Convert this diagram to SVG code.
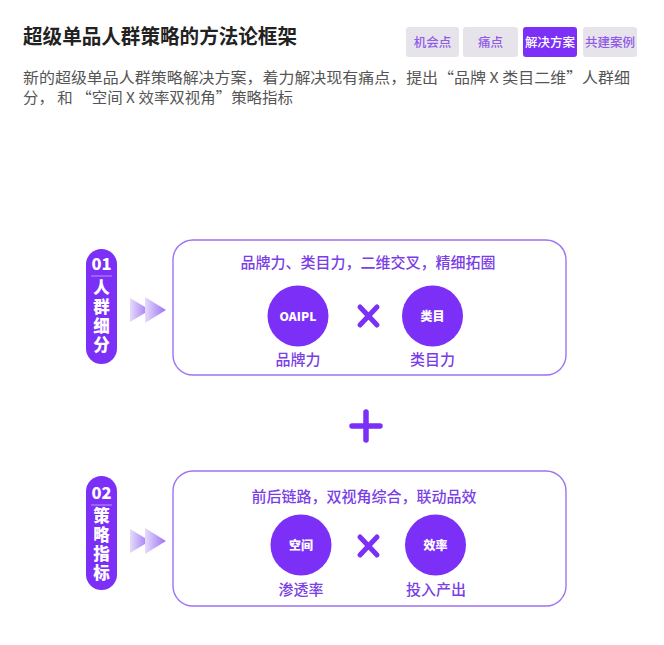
<svg xmlns="http://www.w3.org/2000/svg" width="664" height="645" viewBox="0 0 664 645">
<style>
text{font-family:"Noto Sans CJK SC","Noto Sans",sans-serif}
.title{font-size:20px;font-weight:700;fill:#222}
.sub{font-size:15px;fill:#555}
.tab{fill:#e6e4ea}
.tabt{font-size:12.5px;fill:#8f5ae8;text-anchor:middle;font-weight:500}
.box{fill:#fff;stroke:#9f72f2;stroke-width:1.4}
.pill{fill:#7b2ff7}
.pt{font-size:16.5px;font-weight:800;fill:#fff;text-anchor:middle}
.vt{font-size:16.5px;font-weight:800;fill:#fff;writing-mode:vertical-rl;letter-spacing:2.6px}
.hd{font-size:15px;fill:#7a3ee6;text-anchor:middle;font-weight:500}
.lbl{font-size:15px;fill:#7a3ee6;text-anchor:middle;font-weight:500}
.circ{fill:#7b2ff7}
.ct{font-size:12px;font-weight:800;fill:#fff;text-anchor:middle}
.x{stroke:#7b2ff7;stroke-width:5;stroke-linecap:round}
</style>
<defs>
<linearGradient id="chev" x1="0" y1="0" x2="1" y2="0">
<stop offset="0" stop-color="#e6dcfb"/>
<stop offset="1" stop-color="#9b70f3"/>
</linearGradient>
</defs>
<rect width="664" height="645" fill="#fff"/>
<g id="header">
<text class="title" x="23" y="44" textLength="274" lengthAdjust="spacingAndGlyphs">超级单品人群策略的方法论框架</text>
<text class="sub" x="23" y="83" textLength="607" lengthAdjust="spacingAndGlyphs">新的超级单品人群策略解决方案，着力解决现有痛点，提出“品牌 X 类目二维”人群细</text>
<text class="sub" x="23" y="103" textLength="270" lengthAdjust="spacingAndGlyphs">分， 和 “空间 X 效率双视角”策略指标</text>
</g>
<g id="tabs">
<rect class="tab" x="406" y="27" width="53" height="30" rx="3"/>
<text class="tabt" x="432.5" y="46.5">机会点</text>
<rect class="tab" x="463" y="27" width="55" height="30" rx="3"/>
<text class="tabt" x="490.5" y="46.5">痛点</text>
<rect x="523" y="27" width="54" height="30" rx="3" fill="#7b2ff7"/>
<text class="tabt" x="550" y="46.5" style="fill:#fff">解决方案</text>
<rect class="tab" x="583" y="27" width="54" height="30" rx="3"/>
<text class="tabt" x="610" y="46.5">共建案例</text>
</g>
<g id="section1">
<rect class="pill" x="86" y="249" width="31" height="115" rx="15.5"/>
<text class="pt" x="101.5" y="270">01</text>
<line x1="91" y1="276" x2="112" y2="276" stroke="#fff" stroke-opacity="0.5" stroke-width="1"/>
<text class="vt" x="101.5" y="279">人群细分</text>
<polygon points="130,298 150,310 130,322" fill="url(#chev)"/>
<polygon points="145,297 166,310 145,323" fill="url(#chev)"/>
<rect class="box" x="173" y="240" width="393" height="135" rx="20"/>
<text class="hd" x="368" y="268">品牌力、类目力，二维交叉，精细拓圈</text>
<circle class="circ" cx="298" cy="316" r="30.5"/>
<text class="ct" x="298" y="320.5">OAIPL</text>
<line class="x" x1="360" y1="307" x2="377" y2="325"/>
<line class="x" x1="377" y1="307" x2="360" y2="325"/>
<circle class="circ" cx="432.5" cy="316" r="30.5"/>
<text class="ct" x="432.5" y="320.5">类目</text>
<text class="lbl" x="298" y="365">品牌力</text>
<text class="lbl" x="432.5" y="365">类目力</text>
</g>
<g id="plus">
<line class="x" x1="352" y1="426" x2="380" y2="426" style="stroke-width:5.5"/>
<line class="x" x1="366" y1="412" x2="366" y2="440" style="stroke-width:5.5"/>
</g>
<g id="section2">
<rect class="pill" x="86" y="476" width="31" height="114" rx="15.5"/>
<text class="pt" x="101.5" y="499">02</text>
<line x1="91" y1="505" x2="112" y2="505" stroke="#fff" stroke-opacity="0.5" stroke-width="1"/>
<text class="vt" x="101.5" y="507.5">策略指标</text>
<polygon points="130,529 150,541 130,553" fill="url(#chev)"/>
<polygon points="145,528 166,541 145,554" fill="url(#chev)"/>
<rect class="box" x="173" y="471" width="393" height="135" rx="20"/>
<text class="hd" x="364" y="502">前后链路，双视角综合，联动品效</text>
<circle class="circ" cx="301" cy="545" r="30.5"/>
<text class="ct" x="301" y="549.5">空间</text>
<line class="x" x1="360" y1="537" x2="377" y2="555"/>
<line class="x" x1="377" y1="537" x2="360" y2="555"/>
<circle class="circ" cx="435.5" cy="545" r="30.5"/>
<text class="ct" x="435.5" y="549.5">效率</text>
<text class="lbl" x="301" y="595">渗透率</text>
<text class="lbl" x="436" y="595">投入产出</text>
</g>
</svg>
